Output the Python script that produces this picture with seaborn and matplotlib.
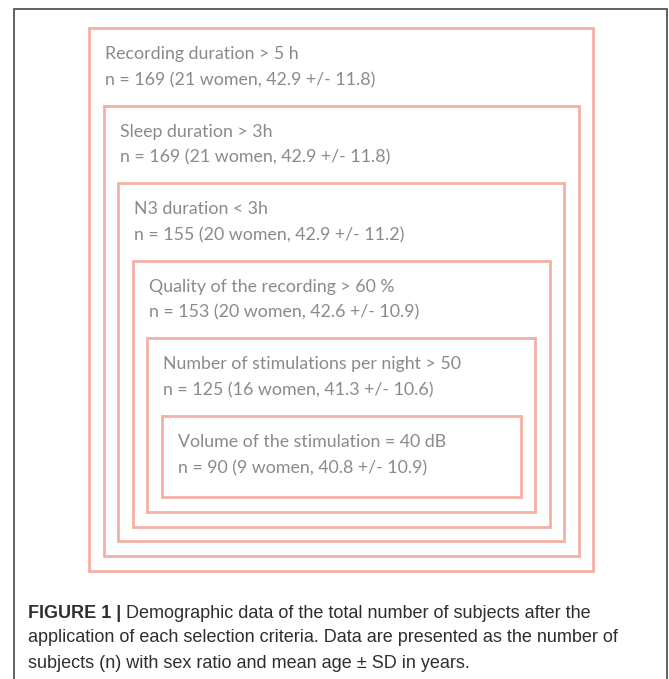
import matplotlib
matplotlib.use("Agg")
import matplotlib.pyplot as plt
from matplotlib.patches import Rectangle
import seaborn as sns

# selection criteria, applied one after another (nested boxes)
criteria = [
    "Recording duration > 5 h",
    "Sleep duration > 3h",
    "N3 duration < 3h",
    "Quality of the recording > 60 %",
    "Number of stimulations per night > 50",
    "Volume of the stimulation = 40 dB",
]
n_subjects = [169, 169, 155, 153, 125, 90]
n_women = [21, 21, 20, 20, 16, 9]
mean_age = [42.9, 42.9, 42.9, 42.6, 41.3, 40.8]
sd_age = [11.8, 11.8, 11.2, 10.9, 10.6, 10.9]

caption_head = "FIGURE 1 |"
caption_lines = [
    " Demographic data of the total number of subjects after the",
    "application of each selection criteria. Data are presented as the number of",
    "subjects (n) with sex ratio and mean age \u00b1 SD in years.",
]

sns.set_theme(style="white")
box_color = "#f3b0a5"
text_color = "#8a8a8a"

fig = plt.figure(figsize=(6.69, 6.79), dpi=100)
ax = fig.add_axes([0, 0, 1, 1])
ax.set_xlim(0, 669)
ax.set_ylim(679, 0)
ax.axis("off")

# outer frame of the figure panel (open at the bottom)
ax.plot([14, 14, 667, 667], [679, 9, 9, 679], color="#555555", lw=1.3,
        solid_joinstyle="miter")

for i, label in enumerate(criteria):
    left = 89 + 14.6 * i
    right = 593 - 14.4 * i
    top = 28 + 77.6 * i
    bottom = 571 - 14.8 * i
    ax.add_patch(Rectangle((left, top), right - left, bottom - top,
                           fill=False, edgecolor=box_color, lw=2.0))
    ax.text(left + 16, top + 26, label, color=text_color, fontsize=12.8,
            family="Lato", va="center", ha="left")
    stats = f"n = {n_subjects[i]} ({n_women[i]} women, {mean_age[i]} +/- {sd_age[i]})"
    ax.text(left + 16, top + 52, stats, color=text_color, fontsize=12.8,
            family="Lato", va="center", ha="left")

# caption
cap_kw = dict(color="#2e2e2e", fontsize=13, family="Liberation Sans")
head = ax.text(28, 613, caption_head, fontweight="bold", va="center", **cap_kw)
ax.annotate(caption_lines[0], xy=(1, 0.5), xycoords=head, va="center", **cap_kw)
ax.text(28, 638, caption_lines[1], va="center", **cap_kw)
ax.text(28, 663, caption_lines[2], va="center", **cap_kw)

fig.savefig("out.png", dpi=100, facecolor="white")
